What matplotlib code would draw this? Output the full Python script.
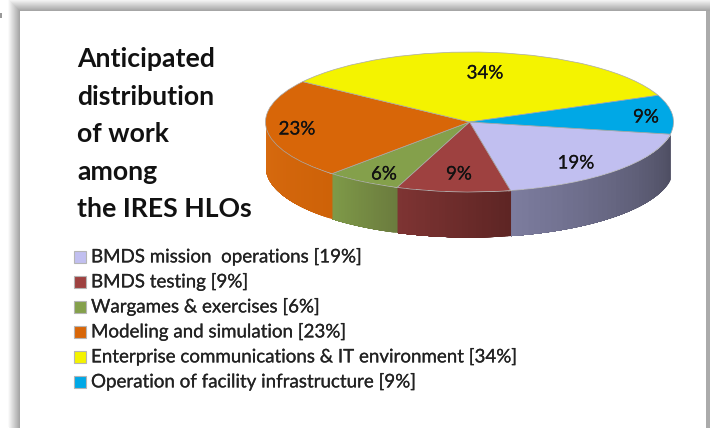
import matplotlib
matplotlib.use('Agg')
import matplotlib.pyplot as plt
import matplotlib.patheffects as pe
from matplotlib.colors import to_rgb
from matplotlib.patches import Rectangle
import numpy as np

# --- Data ---
labels = ['BMDS mission  operations', 'BMDS testing', 'Wargames & exercises',
          'Modeling and simulation', 'Enterprise communications & IT environment',
          'Operation of facility infrastructure']
shares = [19, 9, 6, 23, 34, 9]
top_colors = ['#C1BFF0', '#9E4140', '#84A04B', '#D86608', '#F4F300', '#00A8E6']
side_light = ['#7C7C9E', '#7E3433', '#7F9A48', '#D86B10', '#D0D000', '#006F90']
side_dark = ['#4E4E62', '#5E2524', '#6B7C3E', '#CE6208', '#B0B000', '#004F68']
title_lines = ['Anticipated', 'distribution', 'of work', 'among', 'the IRES HLOs']

# where the percent labels sit, in pixels
label_x = [576, 459, 384, 297, 485, 646]
label_y = [163, 174, 174, 129, 73, 117]

W, H = 710, 428
plt.rcParams['font.family'] = ['Lato', 'DejaVu Sans']
fig = plt.figure(figsize=(W / 100, H / 100), dpi=100)


def pixel_axes(z):
    a = fig.add_axes([0, 0, 1, 1], zorder=z)
    a.set_xlim(0, W)
    a.set_ylim(H, 0)
    a.axis('off')
    return a


bg = pixel_axes(0)
fg = pixel_axes(2)

# soft gray shadow round the white panel, lightest rect first
for i in range(12, -1, -1):
    g = 0.62 + 0.03 * i
    bg.add_patch(Rectangle((20 - i, 11 - i), W, H, color=(g, g, g), lw=0, zorder=1 + (12 - i) * 0.01))
bg.add_patch(Rectangle((706, 11), 4, H, color='#ABABAB', lw=0, zorder=2))
bg.add_patch(Rectangle((20, 11), 686, H, color='white', lw=0, zorder=3))
bg.add_patch(Rectangle((0, 13), 1.5, 5, color='#999999', lw=0, zorder=3))

# --- Pie: unit circle squashed into an ellipse ---
cx, cy, rx, ry, depth = 469.5, 122, 204, 70, 45
ax = fig.add_axes([(cx - rx) / W, 1 - (cy + ry) / H, 2 * rx / W, 2 * ry / H], zorder=1)
ax.patch.set_alpha(0)
start = -10
wedges, _ = ax.pie(shares, colors=top_colors, startangle=start, counterclock=False, radius=1,
                   wedgeprops=dict(edgecolor='#A8A8A8', linewidth=0.5))
ax.set_aspect('auto')
ax.set_xlim(-1, 1)
ax.set_ylim(-1, 1)
for w in wedges:
    w.set_zorder(5)
    w.set_clip_on(False)

# side wall, gradient painted so each strip runs on under the next one
d = depth / ry
edges = start - np.cumsum([0] + shares) * 3.6
for k in range(len(shares)):
    a0, a1 = edges[k], edges[k + 1]
    a1_vis = max(a1, -180)
    a0_vis = min(a0, 0)
    if a0_vis <= a1_vis:
        continue
    steps = np.linspace(a0_vis, a1_vis, 41)
    c0, c1 = np.array(to_rgb(side_light[k])), np.array(to_rgb(side_dark[k]))
    for j in range(40):
        t = j / 39
        # lighter end is on the left of each wall
        col = c1 * (1 - t) + c0 * t
        th = np.radians(np.linspace(steps[j], a1_vis, 40 - j + 3))
        x = np.cos(th)
        ax.fill_between(x, np.sin(th) - d, np.sin(th), color=col, lw=0, zorder=2 + k * 0.1 + j * 0.001,
                        clip_on=False)

thick = [pe.withStroke(linewidth=0.15, foreground='#222222')]

# data labels
for k, s in enumerate(shares):
    fg.text(label_x[k], label_y[k], f'{s}%', ha='center', va='center', fontsize=13.5,
            color='#111111', zorder=8, path_effects=thick)

# --- Title ---
for i, line in enumerate(title_lines):
    fg.text(77, 59 + i * 37.5, line, fontsize=19.2, fontweight='bold', color='#111111',
            va='center', ha='left', zorder=6)

# --- Legend ---
for i, (lab, s, c) in enumerate(zip(labels, shares, top_colors)):
    y = 257 + i * 25
    fg.add_patch(Rectangle((74, y - 6), 11.5, 11.5, fc=c, ec='#B5B5B5', lw=0.8, zorder=6))
    fg.text(91, y, f'{lab} [{s}%]', fontsize=13.5, color='#222222', va='center', ha='left', zorder=6,
            path_effects=thick)

fig.savefig('out.png', dpi=100)
